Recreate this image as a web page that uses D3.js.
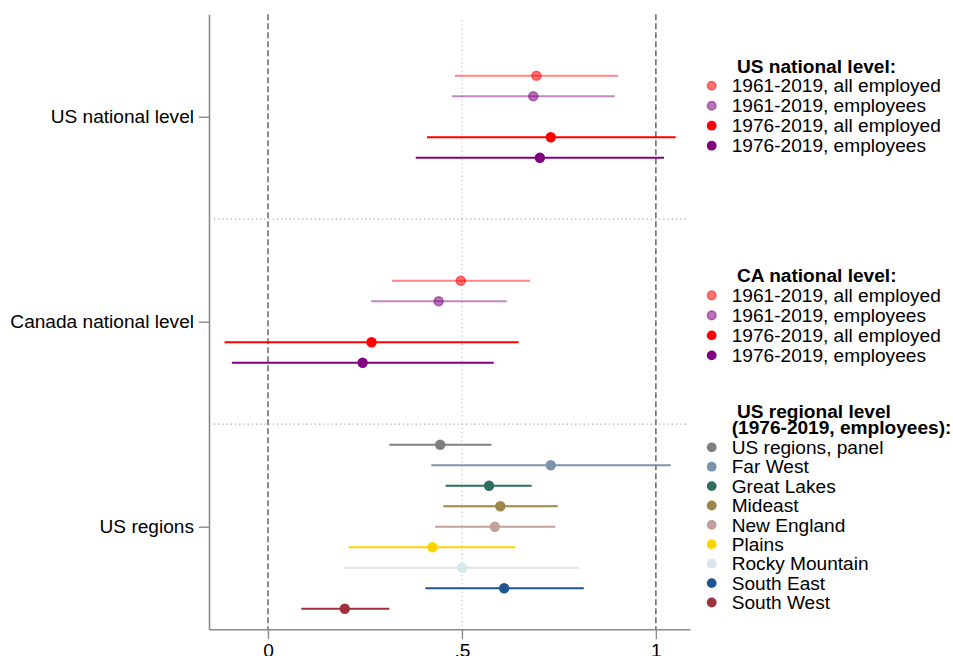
<!DOCTYPE html>
<html>
<head>
<meta charset="utf-8">
<script src="https://cdn.jsdelivr.net/npm/d3@7"></script>
<style>
  html, body { margin: 0; padding: 0; background: #fff; }
  svg { display: block; font-family: "Liberation Sans", Arial, sans-serif; }
</style>
</head>
<body>
<svg id="chart" width="953" height="656"></svg>
<script>
// ---------- DATA ----------
const groups = ["US national level", "Canada national level", "US regions"];
const groupPos = [0, 10, 20];

const nationalSeries = ["1961-2019, all employed", "1961-2019, employees", "1976-2019, all employed", "1976-2019, employees"];
const nationalOffsets = [-2, -1, 1, 2];
const nationalColors = ["#ff0000", "#800080", "#ff0000", "#800080"];
const nationalFaded = [true, true, false, false];

const usEst   = [0.692, 0.684, 0.729, 0.701];
const usLow   = [0.482, 0.475, 0.410, 0.381];
const usHigh  = [0.903, 0.894, 1.051, 1.021];

const caEst   = [0.497, 0.440, 0.267, 0.244];
const caLow   = [0.320, 0.266, -0.112, -0.093];
const caHigh  = [0.676, 0.615, 0.646, 0.582];

const regions = ["US regions, panel", "Far West", "Great Lakes", "Mideast", "New England", "Plains", "Rocky Mountain", "South East", "South West"];
const regionColors = ["#7f7f7f", "#7b93ab", "#2e6d63", "#9a8747", "#c2a19a", "#ffd200", "#d9e6eb", "#1f5590", "#9f323a"];
const regEst  = [0.444, 0.729, 0.570, 0.599, 0.585, 0.424, 0.501, 0.609, 0.198];
const regLow  = [0.313, 0.421, 0.458, 0.452, 0.431, 0.208, 0.198, 0.406, 0.086];
const regHigh = [0.576, 1.038, 0.680, 0.747, 0.741, 0.638, 0.802, 0.814, 0.313];

const xTickValues = [0, 0.5, 1];
const xTickLabels = ["0", ".5", "1"];
const refLinesDashed = [0, 1];
const refLinesDotted = [0.5];
const separators = [5, 15];

const legendTitles = [[" US national level:"], [" CA national level:"], [" US regional level", "(1976-2019, employees):"]];

// ---------- BUILD ROWS ----------
const rows = [];
nationalSeries.forEach((s, i) => {
  rows.push({ y: groupPos[0] + nationalOffsets[i], est: usEst[i], lo: usLow[i], hi: usHigh[i], color: nationalColors[i], faded: nationalFaded[i] });
  rows.push({ y: groupPos[1] + nationalOffsets[i], est: caEst[i], lo: caLow[i], hi: caHigh[i], color: nationalColors[i], faded: nationalFaded[i] });
});
regions.forEach((r, i) => {
  rows.push({ y: groupPos[2] + (i - 4), est: regEst[i], lo: regLow[i], hi: regHigh[i], color: regionColors[i], faded: false });
});

// ---------- SCALES ----------
const svg = d3.select("#chart");
const x = d3.scaleLinear().domain([-0.152, 1.088]).range([209, 690]);
const y = d3.scaleLinear().domain([-5, 25]).range([14.2, 629.2]);
const FS = 19.1;

// reference lines
svg.append("g").selectAll("line").data(refLinesDotted).join("line")
  .attr("x1", d => x(d)).attr("x2", d => x(d))
  .attr("y1", y(-4.7)).attr("y2", y(25))
  .attr("stroke", "#c4c4c4").attr("stroke-width", 1.2).attr("stroke-dasharray", "1.2,3");

svg.append("g").selectAll("line").data(separators).join("line")
  .attr("x1", 214).attr("x2", 688)
  .attr("y1", d => y(d)).attr("y2", d => y(d))
  .attr("stroke", "#a8a8a8").attr("stroke-width", 1.2).attr("stroke-dasharray", "1.2,3");

svg.append("g").selectAll("line").data(refLinesDashed).join("line")
  .attr("x1", d => x(d)).attr("x2", d => x(d))
  .attr("y1", y(-5)).attr("y2", y(25))
  .attr("stroke", "#707070").attr("stroke-width", 1.6).attr("stroke-dasharray", "6,3");

// CI lines
svg.append("g").selectAll("line").data(rows).join("line")
  .attr("x1", d => x(d.lo)).attr("x2", d => x(d.hi))
  .attr("y1", d => y(d.y)).attr("y2", d => y(d.y))
  .attr("stroke", d => d.color)
  .attr("stroke-opacity", d => d.faded ? 0.47 : 1)
  .attr("stroke-width", 2.1);

// points
svg.append("g").selectAll("circle").data(rows).join("circle")
  .attr("cx", d => x(d.est)).attr("cy", d => y(d.y))
  .attr("r", d => d.faded ? 4.5 : 5.2)
  .attr("fill", d => d.color)
  .attr("fill-opacity", d => d.faded ? 0.55 : 1)
  .attr("stroke", d => d.color)
  .attr("stroke-opacity", d => d.faded ? 0.5 : 0)
  .attr("stroke-width", 1.6);

// axes
const xAxis = d3.axisBottom(x).tickValues(xTickValues).tickFormat((d, i) => xTickLabels[i]).tickSize(10).tickSizeOuter(0).tickPadding(4);
const gx = svg.append("g").attr("transform", `translate(0,${y(25)})`).call(xAxis);
gx.select(".domain").attr("stroke", "#8a8a8a").attr("stroke-width", 1.6);
gx.selectAll(".tick line").attr("stroke", "#8a8a8a").attr("stroke-width", 1.4);
gx.selectAll(".tick text").attr("font-size", FS).attr("fill", "#000").attr("font-family", "Liberation Sans, Arial, sans-serif");

const yAxis = d3.axisLeft(y).tickValues(groupPos).tickFormat((d, i) => groups[i]).tickSize(10).tickSizeOuter(0).tickPadding(5);
const gy = svg.append("g").attr("transform", `translate(${x(-0.152)},0)`).call(yAxis);
gy.select(".domain").attr("stroke", "#8a8a8a").attr("stroke-width", 1.6);
gy.selectAll(".tick line").attr("stroke", "#8a8a8a").attr("stroke-width", 1.4);
gy.selectAll(".tick text").attr("font-size", FS).attr("fill", "#000").attr("font-family", "Liberation Sans, Arial, sans-serif");

// ---------- LEGENDS ----------
const legendBlocks = [
  { titleBase: [72.7], first: 85.7, step: 20, labels: nationalSeries, colors: nationalColors, faded: nationalFaded },
  { titleBase: [282.3], first: 295.4, step: 20, labels: nationalSeries, colors: nationalColors, faded: nationalFaded },
  { titleBase: [417.7, 434.3], first: 447.3, step: 19.4, labels: regions, colors: regionColors, faded: regions.map(() => false) }
];
const legX = 711.7, legTextX = 731.7;
legendBlocks.forEach((b, bi) => {
  const g = svg.append("g");
  legendTitles[bi].forEach((t, ti) => {
    g.append("text").attr("x", legTextX).attr("y", b.titleBase[ti])
      .attr("font-size", FS).attr("font-weight", "bold").attr("xml:space", "preserve")
      .style("white-space", "pre").text(t);
  });
  b.labels.forEach((lab, i) => {
    const cy = b.first + i * b.step;
    g.append("circle").attr("cx", legX).attr("cy", cy)
      .attr("r", b.faded[i] ? 4.3 : 4.9)
      .attr("fill", b.colors[i]).attr("fill-opacity", b.faded[i] ? 0.55 : 1)
      .attr("stroke", b.colors[i]).attr("stroke-opacity", b.faded[i] ? 0.5 : 0).attr("stroke-width", 1.5);
    g.append("text").attr("x", legTextX).attr("y", cy).attr("dy", "0.35em")
      .attr("font-size", FS).text(lab);
  });
});
</script>
</body>
</html>
